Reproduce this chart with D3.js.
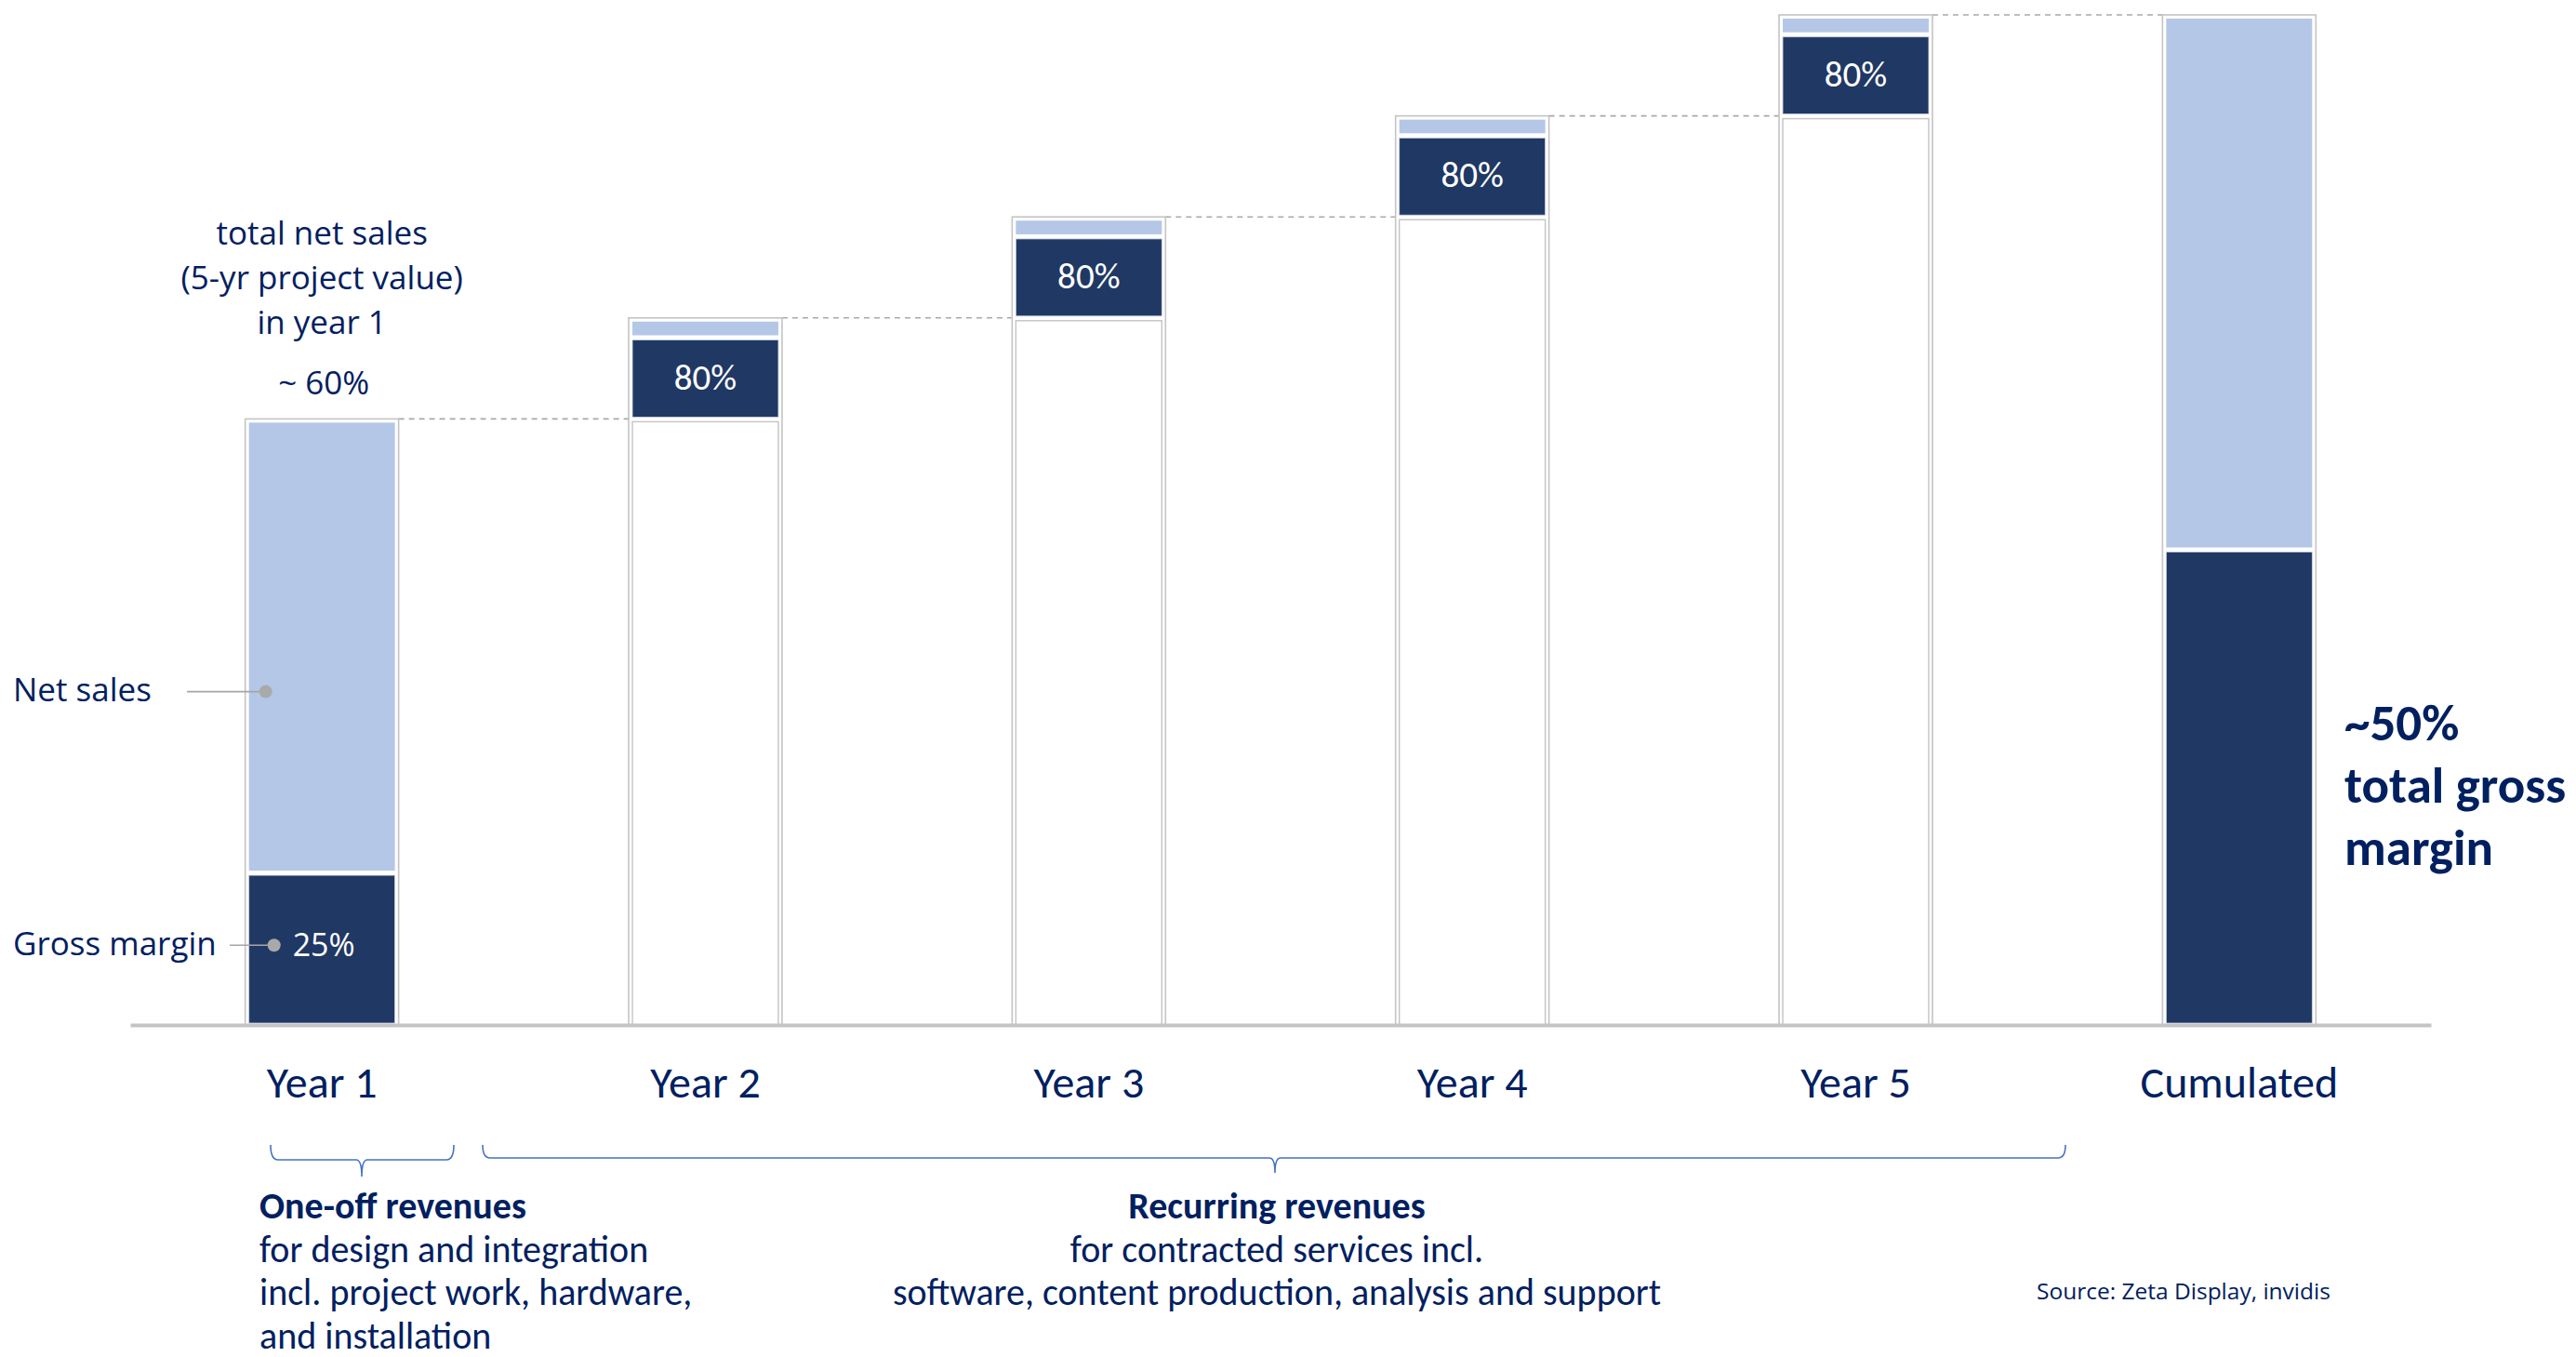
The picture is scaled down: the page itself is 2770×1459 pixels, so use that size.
<!DOCTYPE html>
<html><head><meta charset="utf-8">
<script src="https://cdn.jsdelivr.net/npm/d3@7"></script>
<style>
html,body{margin:0;padding:0;background:#fff;}
svg{display:block;}
</style></head>
<body>
<svg id="chart" width="2770" height="1459"></svg>
<script>
// ---- data ----
const categories = ["Year 1","Year 2","Year 3","Year 4","Year 5","Cumulated"];
const baseValues = [0, 60, 70, 80, 90, 0];        // invisible/white floor of each step
const grossMargin = [15, 8, 8, 8, 8, 47];          // dark segment
const netSalesRest = [45, 2, 2, 2, 2, 53];         // light segment (rest of net sales)
const marginLabels = ["25%","80%","80%","80%","80%",""];
const topNote = ["total net sales","(5-yr project value)","in year 1"];
const topNoteValue = "~ 60%";
const cumNote = ["~50%","total gross","margin"];
const oneOffText = ["One-off revenues","for design and integration","incl. project work, hardware,","and installation"];
const recurringText = ["Recurring revenues","for contracted services incl.","software, content production, analysis and support"];
const sourceText = "Source: Zeta Display, invidis";

const DARK = "#203864", LIGHT = "#b4c7e7", TXT = "#002060", GRID = "#c4c4c4";
const SEGOE = "'Open Sans', 'Noto Sans', sans-serif";
const CAL = "Carlito, Calibri, Lato, sans-serif";

const svg = d3.select("#chart");
const x = d3.scaleBand().domain(categories).range([140, 2614]).paddingInner(0.6).paddingOuter(0.3);
const y = d3.scaleLinear().domain([0, 100]).range([1102, 16]);
const bw = x.bandwidth();

const rows = categories.map((c, i) => ({
  c, i, base: baseValues[i], gm: grossMargin[i], rest: netSalesRest[i],
  top: baseValues[i] + grossMargin[i] + netSalesRest[i], label: marginLabels[i]
}));

// dashed connectors
for (let i = 0; i < rows.length - 1; i++) {
  const yy = y(rows[i].top);
  svg.append("line")
    .attr("x1", x(rows[i].c) + bw).attr("x2", x(rows[i + 1].c))
    .attr("y1", yy).attr("y2", yy)
    .attr("stroke", "#a9a9a9").attr("stroke-width", 1.6).attr("stroke-dasharray", "6,5");
}

const g = svg.append("g");
const bars = g.selectAll("g.bar").data(rows).join("g").attr("class", "bar");
// outer frame
bars.append("rect")
  .attr("x", d => x(d.c)).attr("width", bw)
  .attr("y", d => y(d.top)).attr("height", d => y(0) - y(d.top))
  .attr("fill", "#fff").attr("stroke", GRID).attr("stroke-width", 1.6);
// white base
bars.filter(d => d.base > 0).append("rect")
  .attr("x", d => x(d.c) + 4).attr("width", bw - 8)
  .attr("y", d => y(d.base) + 3).attr("height", d => y(0) - y(d.base) - 3)
  .attr("fill", "#fff").attr("stroke", GRID).attr("stroke-width", 1.4);
// dark gross margin
bars.append("rect")
  .attr("x", d => x(d.c) + 4).attr("width", bw - 8)
  .attr("y", d => y(d.base + d.gm) + 2).attr("height", d => y(d.base) - y(d.base + d.gm) - 4)
  .attr("fill", DARK).attr("stroke", "#c9d3e3").attr("stroke-width", 0.8);
// light rest
bars.append("rect")
  .attr("x", d => x(d.c) + 4).attr("width", bw - 8)
  .attr("y", d => y(d.top) + 4).attr("height", d => y(d.base + d.gm) - y(d.top) - 7)
  .attr("fill", LIGHT);

// margin labels
bars.filter(d => d.label && d.i > 0).append("text")
  .attr("x", d => x(d.c) + bw / 2)
  .attr("y", d => (y(d.base) + y(d.base + d.gm)) / 2)
  .attr("dy", "0.3em").attr("text-anchor", "middle")
  .attr("font-family", CAL).attr("font-size", 39).attr("fill", "#fff")
  .text(d => d.label);
bars.filter(d => d.i === 0).append("text")
  .attr("x", d => x(d.c) + bw / 2 + 2)
  .attr("y", d => y(d.base + 7.9))
  .attr("dy", "0.35em").attr("text-anchor", "middle")
  .attr("font-family", SEGOE).attr("font-size", 34).attr("fill", "#fff")
  .text(d => d.label);

// axis
const axis = svg.append("g").attr("transform", `translate(0,${y(0)})`)
  .call(d3.axisBottom(x).tickSize(0).tickSizeOuter(0).tickPadding(44));
axis.select(".domain").attr("stroke", GRID).attr("stroke-width", 4);
axis.selectAll(".tick text").attr("font-family", CAL).attr("font-size", 48).attr("fill", TXT);

// top note over year 1
const x1c = x(categories[0]) + bw / 2;
svg.append("text").attr("x", x1c).attr("y", 263).attr("text-anchor", "middle")
  .attr("font-family", SEGOE).attr("font-size", 35).attr("fill", TXT)
  .selectAll("tspan").data(topNote).join("tspan")
  .attr("x", x1c).attr("dy", (d, i) => i ? 48 : 0).text(d => d);
svg.append("text").attr("x", x1c + 2).attr("y", 424).attr("text-anchor", "middle")
  .attr("font-family", SEGOE).attr("font-size", 35).attr("fill", TXT).text(topNoteValue);

// legend callouts
const bx = x(categories[0]);
const callouts = [
  {t: "Net sales", v: 33, lx: 201, dx: bx + 22},
  {t: "Gross margin", v: 7.9, lx: 247, dx: bx + 31}
];
callouts.forEach(c => {
  const yy = y(c.v);
  svg.append("line").attr("x1", c.lx).attr("x2", c.dx).attr("y1", yy).attr("y2", yy)
    .attr("stroke", "#a6a6a6").attr("stroke-width", 1.6);
  svg.append("circle").attr("cx", c.dx).attr("cy", yy).attr("r", 7).attr("fill", "#aaa9a9");
  svg.append("text").attr("x", 14).attr("y", yy).attr("dy", "0.3em")
    .attr("font-family", SEGOE).attr("font-size", 35).attr("fill", TXT).text(c.t);
});

// cumulated note
svg.append("text").attr("x", 2521).attr("y", 796)
  .attr("font-family", CAL).attr("font-weight", "bold").attr("font-size", 55).attr("fill", TXT)
  .selectAll("tspan").data(cumNote).join("tspan")
  .attr("x", 2521).attr("dy", (d, i) => i ? 67 : 0).text(d => d);

// braces
function brace(x0, x1, xm, yTop, yMid, yTip) {
  const r = 8;
  return `M${x0},${yTop} Q${x0},${yMid} ${x0 + r},${yMid} L${xm - 6},${yMid} Q${xm},${yMid} ${xm},${yTip}` +
         ` Q${xm},${yMid} ${xm + 6},${yMid} L${x1 - r},${yMid} Q${x1},${yMid} ${x1},${yTop}`;
}
svg.append("path").attr("d", brace(291, 488, 389, 1231, 1247, 1265))
  .attr("fill", "none").attr("stroke", "#4472c4").attr("stroke-width", 1.6);
svg.append("path").attr("d", brace(519, 2221, 1371, 1231, 1245, 1261))
  .attr("fill", "none").attr("stroke", "#4472c4").attr("stroke-width", 1.6);

// bottom texts
const t1 = svg.append("text").attr("x", 279).attr("y", 1310)
  .attr("font-family", CAL).attr("font-size", 40).attr("fill", TXT);
t1.selectAll("tspan").data(oneOffText).join("tspan")
  .attr("x", 279).attr("dy", (d, i) => i ? 46.5 : 0)
  .attr("font-weight", (d, i) => i ? "normal" : "bold").text(d => d);
const t2 = svg.append("text").attr("x", 1373).attr("y", 1310).attr("text-anchor", "middle")
  .attr("font-family", CAL).attr("font-size", 40).attr("fill", TXT);
t2.selectAll("tspan").data(recurringText).join("tspan")
  .attr("x", 1373).attr("dy", (d, i) => i ? 46.5 : 0)
  .attr("font-weight", (d, i) => i ? "normal" : "bold").text(d => d);

svg.append("text").attr("x", 2190).attr("y", 1397)
  .attr("font-family", SEGOE).attr("font-size", 24.5).attr("fill", TXT).text(sourceText);
</script>
</body></html>
